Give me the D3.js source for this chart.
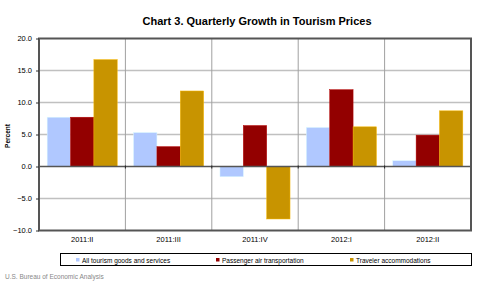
<!DOCTYPE html>
<html><head><meta charset="utf-8">
<script src="https://cdn.jsdelivr.net/npm/d3@7"></script>
<style>body{margin:0;background:#fff}svg{display:block}</style>
</head><body>
<svg id="c" width="480" height="288"></svg>
<script>
const categories = ["2011:II","2011:III","2011:IV","2012:I","2012:II"];
const seriesNames = ["All tourism goods and services","Passenger air transportation","Traveler accommodations"];
const allTourism = [7.7, 5.3, -1.6, 6.1, 0.9];
const airTransport = [7.7, 3.1, 6.4, 12.0, 4.9];
const accommodations = [16.7, 11.8, -8.2, 6.2, 8.7];
const yTicks = [-10, -5, 0, 5, 10, 15, 20];
const colors = ["#b0c8ff", "#930000", "#c89400"];
const series = [allTourism, airTransport, accommodations];

const svg = d3.select("#c");
const m = {l:39, r:471, t:38.5, b:230.5};
const x = d3.scaleBand().domain(categories).range([m.l, m.r]).paddingInner(0).paddingOuter(0);
const x1 = d3.scaleBand().domain(d3.range(series.length)).range([0, x.bandwidth()]).paddingOuter(0.35).paddingInner(0);
const y = d3.scaleLinear().domain([-10, 20]).range([m.b, m.t]);

// title
svg.append("text").attr("x", 257).attr("y", 25).attr("text-anchor","middle")
  .attr("font-family","Liberation Sans, Arial, sans-serif").attr("font-weight","bold").attr("font-size", 11)
  .text("Chart 3. Quarterly Growth in Tourism Prices");

// horizontal gridlines
svg.append("g").selectAll("line").data(yTicks.filter(d => d!==0 && d!==20 && d!==-10)).join("line")
  .attr("x1", m.l).attr("x2", m.r).attr("y1", d=>y(d)).attr("y2", d=>y(d))
  .attr("stroke","#c0c0c0").attr("stroke-width",1.5);

// vertical category separators
svg.append("g").selectAll("line").data(categories.slice(1)).join("line")
  .attr("x1", d=>x(d)).attr("x2", d=>x(d)).attr("y1", m.t).attr("y2", m.b)
  .attr("stroke","#a0a0a0").attr("stroke-width",1);

// bars
const g = svg.append("g");
categories.forEach((c, i) => {
  series.forEach((s, j) => {
    const v = s[i];
    g.append("rect")
      .attr("x", x(c) + x1(j)).attr("width", x1.bandwidth())
      .attr("y", y(Math.max(0, v))).attr("height", Math.abs(y(v) - y(0)))
      .attr("fill", colors[j]).attr("stroke", d3.color(colors[j]).brighter(0.6)).attr("stroke-width", 0.5);
  });
});

// zero line
svg.append("line").attr("x1", m.l).attr("x2", m.r).attr("y1", y(0)).attr("y2", y(0))
  .attr("stroke","#555").attr("stroke-width",1.5);
svg.append("g").selectAll("line").data(categories.slice(1)).join("line")
  .attr("x1", d=>x(d)).attr("x2", d=>x(d)).attr("y1", y(0)-1).attr("y2", y(0)+2)
  .attr("stroke","#222").attr("stroke-width",1);

// frame
svg.append("rect").attr("x", m.l).attr("y", m.t).attr("width", m.r-m.l).attr("height", m.b-m.t)
  .attr("fill","none").attr("stroke","#555").attr("stroke-width",2);

// y axis
const yAxis = d3.axisLeft(y).tickValues(yTicks).tickFormat(d3.format(".1f")).tickSize(3).tickPadding(4);
const ya = svg.append("g").attr("transform", `translate(${m.l},0)`).call(yAxis);
ya.select(".domain").remove();
ya.selectAll(".tick line").attr("stroke","#333");
ya.selectAll("text").attr("font-family","Liberation Sans, Arial, sans-serif").attr("font-size",7.5).attr("fill","#000");

// x axis labels
const xAxis = d3.axisBottom(x).tickSize(0).tickPadding(6);
const xa = svg.append("g").attr("transform", `translate(0,${m.b})`).call(xAxis);
xa.select(".domain").remove();
xa.selectAll("text").attr("font-family","Liberation Sans, Arial, sans-serif").attr("font-size",7.5).attr("fill","#000");

// y title
svg.append("text").attr("transform","translate(10,136) rotate(-90)").attr("text-anchor","middle")
  .attr("font-family","Liberation Sans, Arial, sans-serif").attr("font-weight","bold").attr("font-size",6.5)
  .text("Percent");

// legend
svg.append("rect").attr("x", 60.5).attr("y", 253.5).attr("width", 411).attr("height", 12)
  .attr("fill","#fff").attr("stroke","#000").attr("stroke-width",1);
const legX = [76, 216, 350];
seriesNames.forEach((n, j) => {
  svg.append("rect").attr("x", legX[j]).attr("y", 258).attr("width", 3.5).attr("height", 3.5).attr("fill", colors[j]);
  svg.append("text").attr("x", legX[j]+6).attr("y", 262.5)
    .attr("font-family","Liberation Sans, Arial, sans-serif").attr("font-size",6.5).text(n);
});

// source
svg.append("text").attr("x", 5).attr("y", 279)
  .attr("font-family","Liberation Sans, Arial, sans-serif").attr("font-size",6.5).attr("fill","#888")
  .text("U.S. Bureau of Economic Analysis");
</script>
</body></html>
